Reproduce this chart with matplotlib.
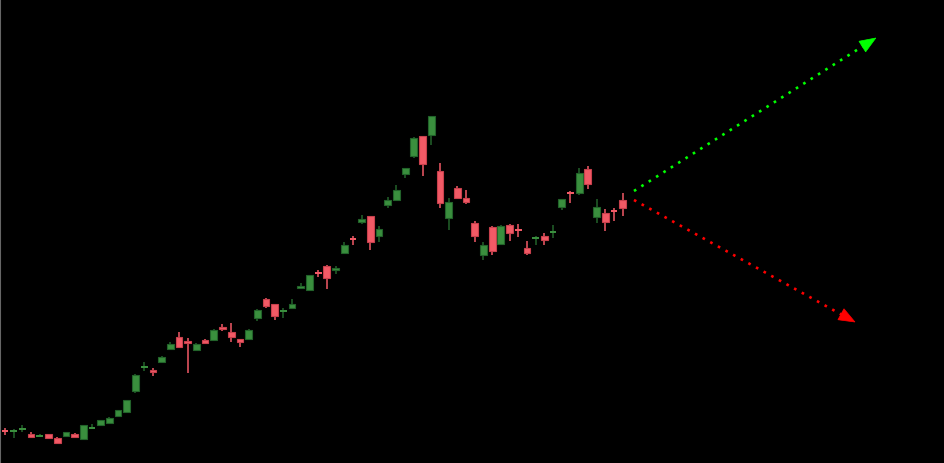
import matplotlib
matplotlib.use("Agg")
import matplotlib.pyplot as plt
from matplotlib.patches import Polygon
import numpy as np

# OHLC values (arbitrary price units)
opens = [32, 31.5, 33.5, 29, 26.5, 29, 25, 27, 29, 24, 34.5, 38, 40, 47, 51, 72,
         95.5, 93, 101, 114, 126, 122, 113, 123, 123, 136, 131, 124, 124, 145,
         164, 159, 151, 155, 175, 173, 190.5, 197, 193, 210, 224.5, 241, 247,
         227, 258, 263, 289, 307, 327, 328, 292, 245, 275, 265, 240, 208, 236,
         219, 238, 233.5, 215, 224.5, 227, 230.5, 256, 270.5, 270, 294, 246,
         250, 252.5, 263]
highs = [35, 34, 38, 31, 29, 29, 26, 31, 30, 38, 39, 43, 46, 53, 63, 89,
         101, 95, 107, 121, 131, 125, 120, 124, 134, 139, 140, 124, 134, 154,
         165, 159, 155, 164, 180, 188, 193, 198, 197, 221, 227, 248, 247,
         237, 266, 278, 295, 326, 327, 347, 300, 265, 277, 273, 242, 221, 237,
         238, 239, 239, 222, 227, 230, 238, 264, 272, 295, 297, 264,
         254, 255, 270]
lows = [28, 25, 31, 25, 26, 25, 20, 27, 26, 24, 34, 38, 39, 46, 50, 70,
        92, 87, 100, 113, 115, 90, 112, 119, 123, 132, 121, 116, 124, 142,
        155, 143, 145, 154, 174.5, 173, 186, 174, 189, 209, 218, 239, 213,
        221, 255, 263, 285, 305, 287, 318, 255, 233, 265, 259, 221, 203, 208,
        218, 222, 226, 208, 218, 218, 225, 253, 260, 268, 274, 240,
        232, 242, 247]
closes = [31.5, 32, 34, 26, 27, 25, 20, 31, 26, 38, 35, 43, 45, 53, 63, 88,
          96, 91, 106, 119, 116, 120, 119, 120, 133, 134, 126, 121, 133, 153,
          157, 147, 152.5, 159, 177.5, 188, 189.5, 185, 195, 218, 223.5, 244,
          221, 234, 263, 273, 295, 325, 299, 347, 260, 261, 265, 261, 227, 218,
          212, 237, 230, 232.5, 210, 225.5, 223, 231.5, 264, 269.5, 290, 279,
          256, 241, 251.5, 255]

# projection arrows: (start index, start price) -> (end index, end price)
up_arrow = [(72.3, 272), (100.1, 425)]
down_arrow = [(72.3, 263), (97.7, 141)]

UP_BODY = "#3a8f3e"
UP_EDGE = "#22632a"
DN_BODY = "#f25a66"
DN_EDGE = "#c8404c"

fig = plt.figure(figsize=(9.45, 4.64), dpi=100, facecolor="black")
ax = fig.add_axes([0, 0, 1, 1])
ax.set_facecolor("black")
ax.set_xlim(-0.575, 108.05)
ax.set_ylim(0, 464)

n = len(opens)
x = np.arange(n)
o = np.array(opens, float); h = np.array(highs, float)
l = np.array(lows, float); c = np.array(closes, float)
up = c >= o
width = 0.78

for i in range(n):
    body_c = UP_BODY if up[i] else DN_BODY
    edge_c = UP_EDGE if up[i] else DN_EDGE
    wick_c = UP_EDGE if up[i] else DN_BODY
    ax.vlines(x[i], l[i], h[i], color=wick_c, lw=1.1, zorder=2)
    bot = min(o[i], c[i]); ht = abs(c[i] - o[i])
    if ht < 1.6:
        mid = (o[i] + c[i]) / 2
        ax.bar(x[i], 1.6, bottom=mid - 0.8, width=width, color=body_c,
               edgecolor=body_c, lw=0, zorder=3)
    else:
        ax.bar(x[i], ht, bottom=bot, width=width, color=body_c,
               edgecolor=edge_c, lw=0.8, zorder=3)

def draw_arrow(pts, color, head_len=16.0, head_w=12.5):
    (x0, y0), (x1, y1) = pts
    T = ax.transData
    p0 = T.transform((x0, y0)); p1 = T.transform((x1, y1))
    d = p1 - p0
    d = d / np.hypot(*d)
    nrm = np.array([-d[1], d[0]])
    base = p1 - d * head_len
    tri_px = np.array([p1, base + nrm * head_w / 2, base - nrm * head_w / 2])
    tri = T.inverted().transform(tri_px)
    line_end = T.inverted().transform(base + d * 2)
    ax.plot([x0, line_end[0]], [y0, line_end[1]], color=color, lw=1.9,
            linestyle=(0, (1, 2.3)), dash_capstyle="butt", zorder=4)
    ax.add_patch(Polygon(tri, closed=True, facecolor=color, edgecolor=color,
                         lw=0.5, zorder=5))

draw_arrow(up_arrow, "#00ff00")
draw_arrow(down_arrow, "#ff0000")

ax.set_xticks([]); ax.set_yticks([])
for s in ["top", "right", "bottom"]:
    ax.spines[s].set_visible(False)
ax.spines["left"].set_color("#666666")
ax.spines["left"].set_linewidth(1.5)

fig.savefig("out.png", dpi=100, facecolor="black")
